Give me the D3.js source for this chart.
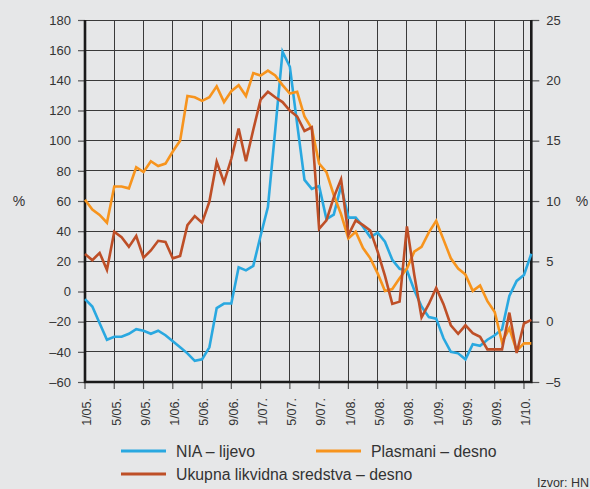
<!DOCTYPE html>
<html>
<head>
<meta charset="utf-8">
<script src="https://cdn.jsdelivr.net/npm/d3@7"></script>
<style>
  body { margin: 0; background: #e6e7e8; }
  svg { display: block; font-family: "Liberation Sans", Arial, sans-serif; }
</style>
</head>
<body>
<svg id="chart" width="590" height="489"></svg>
<script>
// oznake na x osi (svaki 4. mjesec, od 1/05. do 1/10.)
var mjeseci = ["1/05.","5/05.","9/05.","1/06.","5/06.","9/06.","1/07.","5/07.","9/07.",
    "1/08.","5/08.","9/08.","1/09.","5/09.","9/09.","1/10."];

var ticksLijevo = [-60,-40,-20,0,20,40,60,80,100,120,140,160,180];
var ticksDesno = [-5,0,5,10,15,20,25];

// mjesecni podaci 1/05. - 2/10.
var nia = [-5,-10,-21,-32,-30,-30,-28,-25,-26,-28,-26,-29,-33,-37,-41,-46,-45,-37,-11,-8,
    -8,16,14,17,37,56,107,159,149,111,74,68,70,48,51,70,49,49,43,36,
    39,33,21,15,14,1,-10,-17,-18,-31,-40,-41,-45,-35,-36,-32,-29,-25,-3,7,
    11,25];

var plasmani = [10.1,9.3,8.85,8.2,11.2,11.2,11.05,12.8,12.4,13.3,12.9,13.1,14.1,15.0,18.7,18.6,18.3,18.6,19.5,18.2,
    19.1,19.6,18.7,20.6,20.4,20.8,20.4,19.6,18.9,19.05,17.0,16.0,13.1,12.4,10.5,8.9,6.9,7.45,6.1,5.25,
    4.0,2.55,2.7,3.6,4.4,5.8,6.2,7.4,8.35,6.8,5.25,4.4,3.9,2.55,3.0,1.7,0.8,-1.7,-0.55,-2.4,
    -1.8,-1.8];

var ukupna = [5.6,5.1,5.7,4.3,7.45,7.0,6.2,7.1,5.3,5.9,6.7,6.6,5.25,5.45,8.0,8.75,8.2,9.95,13.25,11.55,
    13.5,16.0,13.3,15.9,18.4,19.05,18.6,18.2,17.5,17.0,15.8,16.1,7.7,8.4,10.3,11.8,7.2,8.4,8.0,7.55,
    5.8,3.8,1.47,1.66,7.9,3.9,0.35,1.47,2.8,1.45,-0.3,-1.0,-0.3,-0.95,-1.25,-2.3,-2.3,-2.3,0.75,-2.6,
    -0.15,0.15];

var serije = [
    {naziv: "NIA – lijevo", data: nia, os: "L", boja: "#29a8e0"},
    {naziv: "Plasmani – desno", data: plasmani, os: "R", boja: "#f7941d"},
    {naziv: "Ukupna likvidna sredstva – desno", data: ukupna, os: "R", boja: "#be4f27"}
];

let svg = d3.select("#chart");

let x = d3.scaleLinear().domain([0, 61]).range([85, 531.3]);
let yL = d3.scaleLinear().domain([-60, 180]).range([382, 20]);
let yR = d3.scaleLinear().domain([-5, 25]).range([382, 20]);

function fmt(d){
    return d < 0 ? "–" + Math.abs(d) : "" + d;
}

// mreza
let grid = svg.append("g").attr("stroke", "#3a3a3a").attr("stroke-width", 1)
    .attr("shape-rendering", "crispEdges");
grid.selectAll(".h")
    .data(ticksLijevo.filter(d => d > -60))
    .enter().append("line")
    .attr("x1", x(0)).attr("x2", x(61))
    .attr("y1", d => yL(d)).attr("y2", d => yL(d));
grid.selectAll(".v")
    .data(mjeseci.map((m, i) => i * 4).filter(i => i > 0))
    .enter().append("line")
    .attr("x1", d => x(d)).attr("x2", d => x(d))
    .attr("y1", yL(180)).attr("y2", yL(-60));

// osi
let osL = d3.axisLeft(yL).tickValues(ticksLijevo).tickSize(7).tickPadding(7).tickFormat(fmt);
let osR = d3.axisRight(yR).tickValues(ticksDesno).tickSize(8).tickPadding(7).tickFormat(fmt);

function stilOsi(g){
    g.select(".domain").remove();
    g.selectAll("line").attr("stroke", "#555").attr("stroke-width", 1.2);
    g.selectAll("text").attr("fill", "#333").style("font-size", "13px");
}
svg.append("g").attr("transform", "translate(" + x(0) + ",0)").call(osL).call(stilOsi);
svg.append("g").attr("transform", "translate(" + x(61) + ",0)").call(osR).call(stilOsi);

let osX = svg.append("g");
osX.selectAll("line")
    .data(mjeseci)
    .enter().append("line")
    .attr("x1", (d, i) => x(i * 4)).attr("x2", (d, i) => x(i * 4))
    .attr("y1", yL(-60)).attr("y2", yL(-60) + 7)
    .attr("stroke", "#555").attr("stroke-width", 1.2);
osX.selectAll("text")
    .data(mjeseci)
    .enter().append("text")
    .attr("transform", (d, i) => "translate(" + (x(i * 4) + 2) + "," + (yL(-60) + 16) + ") rotate(-90)")
    .attr("text-anchor", "end")
    .attr("dy", "0.35em")
    .attr("fill", "#333")
    .style("font-size", "12.5px")
    .text(d => d);

// deblje linije osi
svg.append("path")
    .attr("d", "M" + x(0) + "," + yL(180) + "V" + yL(-60) + "H" + x(61) + "V" + yL(180))
    .attr("fill", "none").attr("stroke", "#1a1a1a").attr("stroke-width", 2.6);

svg.append("text").attr("x", 19).attr("y", yL(60)).attr("dy", "0.35em")
    .attr("text-anchor", "middle").attr("fill", "#333").style("font-size", "14px").text("%");
svg.append("text").attr("x", 582).attr("y", yL(60)).attr("dy", "0.35em")
    .attr("text-anchor", "middle").attr("fill", "#333").style("font-size", "14px").text("%");

// linije
for (let s of serije){
    let y = s.os === "L" ? yL : yR;
    let line = d3.line().x((d, i) => x(i)).y(d => y(d));
    svg.append("path")
        .datum(s.data)
        .attr("d", line)
        .attr("fill", "none")
        .attr("stroke", s.boja)
        .attr("stroke-width", 2.6)
        .attr("stroke-linejoin", "miter");
}

// legenda
let legenda = [
    {s: serije[0], lx: 121, ly: 451},
    {s: serije[1], lx: 316, ly: 451},
    {s: serije[2], lx: 121, ly: 474}
];
let lg = svg.selectAll(".leg").data(legenda).enter().append("g");
lg.append("line")
    .attr("x1", d => d.lx).attr("x2", d => d.lx + 45)
    .attr("y1", d => d.ly).attr("y2", d => d.ly)
    .attr("stroke", d => d.s.boja).attr("stroke-width", 3);
lg.append("text")
    .attr("x", d => d.lx + 55).attr("y", d => d.ly + 6)
    .attr("fill", "#333").style("font-size", "15.8px")
    .text(d => d.s.naziv);

svg.append("text").attr("x", 589).attr("y", 487).attr("text-anchor", "end")
    .attr("fill", "#333").style("font-size", "12.5px").text("Izvor: HN");
</script>
</body>
</html>
